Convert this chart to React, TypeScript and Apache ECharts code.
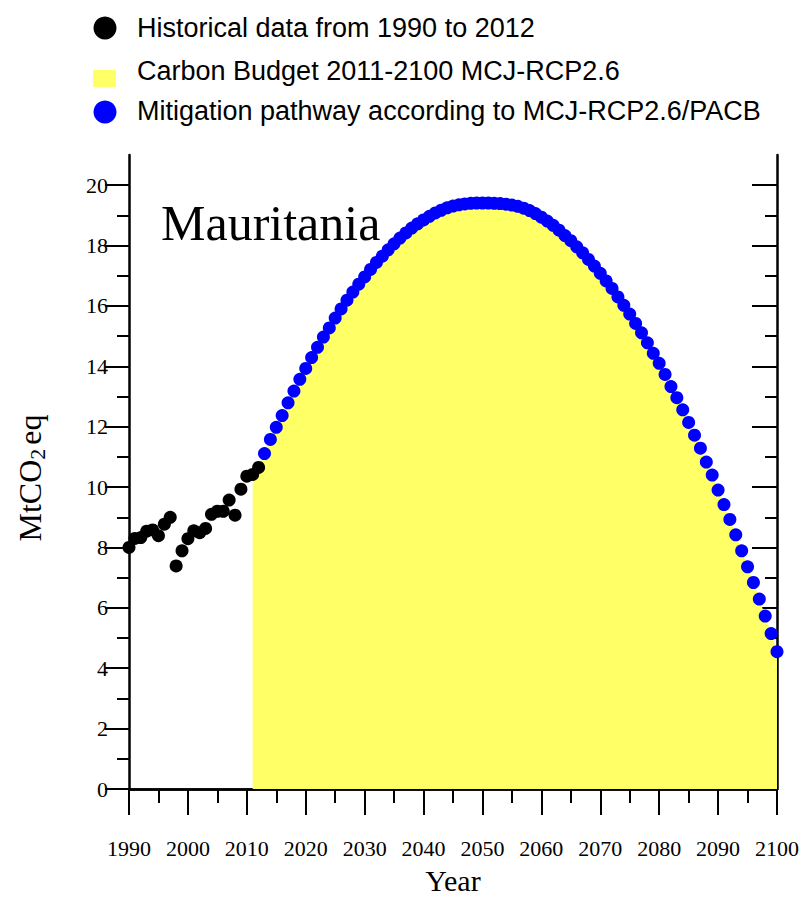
import React, { useEffect, useRef } from "react";
import * as echarts from "echarts";

// Historical emissions (MtCO2eq), 1990-2012
const histStartYear = 1990;
const histValues = [
  8.0, 8.3, 8.33, 8.54, 8.58, 8.39, 8.77, 9.0, 7.39, 7.89, 8.29, 8.55, 8.49,
  8.63, 9.1, 9.2, 9.2, 9.57, 9.07, 9.93, 10.36, 10.42, 10.65,
];

// Mitigation pathway MCJ-RCP2.6/PACB, 2013-2100
const pathStartYear = 2013;
const pathValues = [
  11.11, 11.58, 11.98, 12.37, 12.79, 13.18, 13.57, 13.93, 14.29, 14.63,
  14.97, 15.27, 15.6, 15.9, 16.19, 16.46, 16.72, 16.96, 17.21, 17.44,
  17.65, 17.86, 18.06, 18.25, 18.42, 18.58, 18.72, 18.85, 18.97, 19.08,
  19.17, 19.25, 19.31, 19.35, 19.38, 19.4, 19.41, 19.41, 19.41, 19.4,
  19.39, 19.37, 19.34, 19.3, 19.24, 19.16, 19.06, 18.94, 18.81, 18.67,
  18.51, 18.33, 18.16, 17.96, 17.76, 17.54, 17.32, 17.08, 16.83, 16.58,
  16.3, 16.02, 15.73, 15.42, 15.11, 14.78, 14.43, 14.1, 13.73, 13.33,
  12.96, 12.56, 12.14, 11.72, 11.29, 10.83, 10.4, 9.9, 9.42, 8.93,
  8.42, 7.89, 7.36, 6.84, 6.29, 5.73, 5.15, 4.55,
];

// Carbon budget area top: 2011, 2012, then the pathway
const budgetStartYear = 2011;
const budgetLead = [10.42, 10.65];

const yMajorTicks = [0, 2, 4, 6, 8, 10, 12, 14, 16, 18, 20];
const yMinorTicks = [1, 3, 5, 7, 9, 11, 13, 15, 17, 19];

const HIST_NAME = "Historical data from 1990 to 2012";
const BUDGET_NAME = "Carbon Budget 2011-2100 MCJ-RCP2.6";
const PATH_NAME = "Mitigation pathway according to MCJ-RCP2.6/PACB";

const BLACK = "#000000";
const YELLOW = "#FFFF66";
const BLUE = "#0000FF";

const SERIF = '"Liberation Serif", "Times New Roman", Times, serif';
const SANS = '"Liberation Sans", Arial, Helvetica, sans-serif';

export default function App() {
  const ref = useRef<HTMLDivElement>(null);

  useEffect(() => {
    if (!ref.current) return;
    const chart = echarts.init(ref.current, undefined, { renderer: "svg" });

    const histData = histValues.map((v, i) => [histStartYear + i, v]);
    const pathData = pathValues.map((v, i) => [pathStartYear + i, v]);
    const budgetData = budgetLead
      .concat(pathValues)
      .map((v, i) => [budgetStartYear + i, v]);

    const axisLineStyle = { color: BLACK, width: 2.5 };
    const tickLineStyle = { color: BLACK, width: 2 };

    const yBase = {
      type: "value" as const,
      min: 0,
      max: 21,
      interval: 1,
      splitLine: { show: false },
    };

    const legendTextStyle = (text: string, y: number) => ({
      type: "text",
      x: 137,
      y,
      z: 20,
      style: {
        text,
        fontSize: 27,
        fontFamily: SANS,
        fill: BLACK,
        align: "left",
        verticalAlign: "middle",
      },
    });

    chart.setOption({
      animation: false,
      backgroundColor: "#fff",
      grid: {
        left: 129,
        right: 24,
        top: 155,
        bottom: 108,
        containLabel: false,
        outerBoundsMode: "none",
      },
      xAxis: [
        {
          type: "value",
          position: "bottom",
          min: 1990,
          max: 2100,
          interval: 10,
          axisLine: { lineStyle: axisLineStyle },
          axisTick: { length: 26, lineStyle: tickLineStyle },
          minorTick: { show: true, splitNumber: 2, length: 14, lineStyle: tickLineStyle },
          axisLabel: {
            fontSize: 22,
            fontFamily: SERIF,
            color: BLACK,
            margin: 48,
            formatter: (v: number) => String(v),
          },
          splitLine: { show: false },
          minorSplitLine: { show: false },
          name: "Year",
          nameLocation: "middle",
          nameGap: 76,
          nameTextStyle: { fontSize: 30, lineHeight: 30, fontFamily: SERIF, color: BLACK },
        },
        {
          type: "value",
          position: "top",
          min: 1990,
          max: 2100,
          interval: 10,
          axisLine: { lineStyle: axisLineStyle },
          axisTick: { inside: true, length: 26, lineStyle: tickLineStyle },
          minorTick: { show: true, splitNumber: 2, length: 13, lineStyle: tickLineStyle },
          axisLabel: { show: false },
          splitLine: { show: false },
          minorSplitLine: { show: false },
        },
      ],
      yAxis: [
        {
          ...yBase,
          position: "left",
          axisLine: { show: true, lineStyle: axisLineStyle },
          axisTick: { show: true, length: 24, lineStyle: tickLineStyle, customValues: yMajorTicks },
          axisLabel: {
            fontSize: 22,
            fontFamily: SERIF,
            color: BLACK,
            margin: 21,
            customValues: yMajorTicks,
          },
          name: "MtCO{sub|2}eq",
          nameLocation: "middle",
          nameGap: 81,
          nameTextStyle: {
            fontSize: 32,
            fontFamily: SERIF,
            color: BLACK,
            padding: [0, 12, 0, 0],
            rich: {
              sub: { fontSize: 22, fontFamily: SERIF, color: BLACK, padding: [14, 4, 0, 0] },
            },
          },
        },
        {
          ...yBase,
          position: "left",
          axisLine: { show: false },
          axisTick: { show: true, length: 12, lineStyle: tickLineStyle, customValues: yMinorTicks },
          axisLabel: { show: false },
        },
        {
          ...yBase,
          position: "right",
          axisLine: { show: true, lineStyle: axisLineStyle },
          axisTick: {
            show: true,
            inside: true,
            length: 25,
            lineStyle: tickLineStyle,
            customValues: yMajorTicks,
          },
          axisLabel: { show: false },
        },
        {
          ...yBase,
          position: "right",
          axisLine: { show: false },
          axisTick: {
            show: true,
            inside: true,
            length: 12,
            lineStyle: tickLineStyle,
            customValues: yMinorTicks,
          },
          axisLabel: { show: false },
        },
      ],
      series: [
        {
          name: BUDGET_NAME,
          type: "line",
          xAxisIndex: 0,
          yAxisIndex: 0,
          data: budgetData,
          symbol: "none",
          color: YELLOW,
          itemStyle: { color: YELLOW },
          lineStyle: { width: 0, color: YELLOW },
          areaStyle: { color: YELLOW, opacity: 1 },
          z: 1,
        },
        {
          name: PATH_NAME,
          type: "scatter",
          xAxisIndex: 0,
          yAxisIndex: 0,
          data: pathData,
          symbol: "circle",
          symbolSize: 13,
          itemStyle: { color: BLUE, opacity: 1 },
          z: 2,
        },
        {
          name: HIST_NAME,
          type: "scatter",
          xAxisIndex: 0,
          yAxisIndex: 0,
          data: histData,
          symbol: "circle",
          symbolSize: 13,
          itemStyle: { color: BLACK, opacity: 1 },
          z: 3,
        },
      ],
      graphic: [
        {
          type: "text",
          x: 161,
          y: 223,
          z: 10,
          style: {
            text: "Mauritania",
            fontSize: 50,
            fontFamily: SERIF,
            fill: BLACK,
            align: "left",
            verticalAlign: "middle",
          },
        },
        // legend
        { type: "circle", z: 20, shape: { cx: 105, cy: 28, r: 11.5 }, style: { fill: BLACK } },
        { type: "rect", z: 20, shape: { x: 93, y: 70, width: 23, height: 17 }, style: { fill: YELLOW } },
        { type: "circle", z: 20, shape: { cx: 105, cy: 112, r: 11.5 }, style: { fill: BLUE } },
        legendTextStyle(HIST_NAME, 28),
        legendTextStyle(BUDGET_NAME, 71),
        legendTextStyle(PATH_NAME, 111),
      ],
    });

    return () => {
      chart.dispose();
    };
  }, []);

  return (
    <div
      ref={ref}
      style={{ position: "fixed", left: 0, top: 0, width: 801, height: 897, background: "#fff" }}
    />
  );
}
